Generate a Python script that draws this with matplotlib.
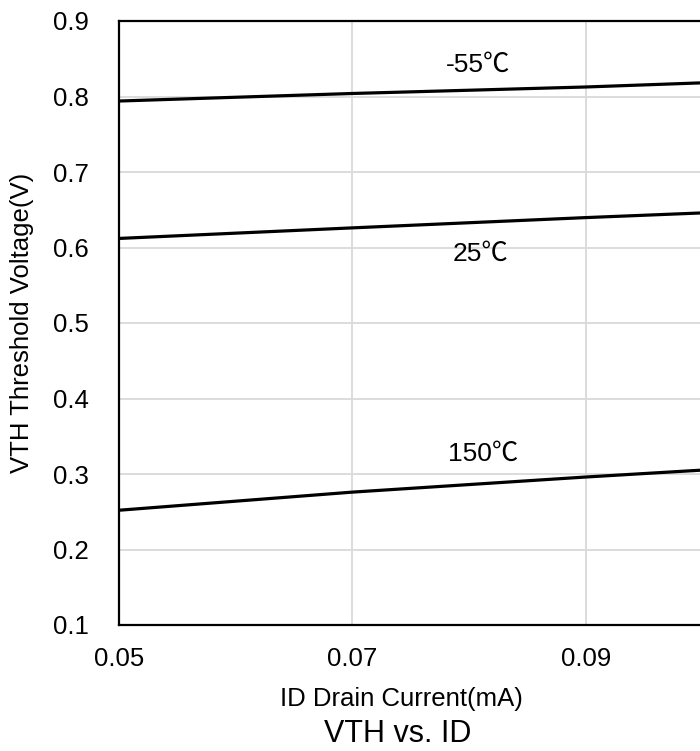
import matplotlib
matplotlib.use("Agg")
import matplotlib.pyplot as plt

plt.rcParams['font.family'] = ['Liberation Sans', 'DejaVu Sans']

# drain current (mA)
id_ma = [0.05, 0.07, 0.09, 0.0998]
# threshold voltage (V) for each temperature
vth_m55 = [0.794, 0.804, 0.8126, 0.818]
vth_25 = [0.612, 0.626, 0.6396, 0.6457]
vth_150 = [0.252, 0.276, 0.296, 0.305]

curves = [vth_m55, vth_25, vth_150]
curve_labels = ["-55℃", "25℃", "150℃"]
label_pos = [(0.0808, 0.842), (0.0810, 0.591), (0.0812, 0.327)]

x_ticks = [0.05, 0.07, 0.09, 0.11]
y_ticks = [0.1, 0.2, 0.3, 0.4, 0.5, 0.6, 0.7, 0.8, 0.9]

fig = plt.figure(figsize=(7, 7.51), dpi=100)
ax = fig.add_axes([119 / 700, 126 / 751, 700 / 700, 604 / 751])

for vals in curves:
    ax.plot(id_ma, vals, color="black", lw=2.3, solid_capstyle="butt")

for txt, (px, py) in zip(curve_labels, label_pos):
    ax.text(px, py, txt, fontsize=19, ha="center", va="center",
            family=['Liberation Sans', 'Noto Sans CJK SC'])

ax.set_xlim(0.05, 0.11)
ax.set_ylim(0.1, 0.9)
ax.set_xticks(x_ticks)
ax.set_xticklabels(["0.05", "0.07", "0.09", ""])
ax.set_yticks(y_ticks)
ax.set_yticklabels([f"{v:.1f}" for v in y_ticks])
ax.tick_params(axis="both", length=0, labelsize=18.5)
ax.tick_params(axis="y", pad=22)
ax.tick_params(axis="x", pad=16)
ax.grid(True, color="#d9d9d9", lw=1.3)
ax.set_axisbelow(True)
for s in ax.spines.values():
    s.set_linewidth(1.6)
    s.set_color("black")

fig.text(22 / 700, 1 - 323 / 751, "VTH Threshold Voltage(V)", rotation=90,
         fontsize=18.5, ha="center", va="center")
fig.text(401 / 700, 1 - 699 / 751, "ID Drain Current(mA)", fontsize=18.5,
         ha="center", va="center")
fig.text(398 / 700, 1 - 734 / 751, "VTH vs. ID", fontsize=22,
         ha="center", va="center")

fig.savefig("out.png", dpi=100)
